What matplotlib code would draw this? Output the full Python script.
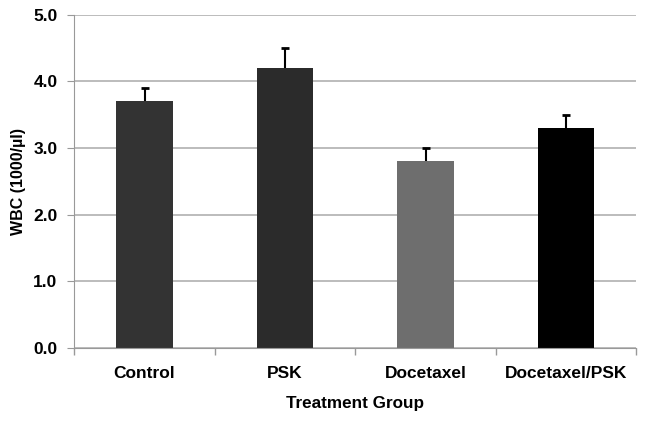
import matplotlib
matplotlib.use('Agg')
import matplotlib.pyplot as plt

# Data
groups = ['Control', 'PSK', 'Docetaxel', 'Docetaxel/PSK']
wbc = [3.7, 4.2, 2.8, 3.3]
err = [0.2, 0.3, 0.2, 0.2]
colors = ['#333333', '#2b2b2b', '#6e6e6e', '#000000']

plt.rcParams['font.family'] = ['Liberation Sans', 'DejaVu Sans']
plt.rcParams['font.weight'] = 'bold'

fig, ax = plt.subplots(figsize=(6.46, 4.23), dpi=100)
fig.subplots_adjust(left=0.115, right=0.985, top=0.965, bottom=0.177)

x = range(len(groups))
ax.bar(x, wbc, width=0.4, color=colors, zorder=2)
line, caps, bars = ax.errorbar(x, wbc, yerr=[[0] * len(err), err], fmt='none', ecolor='black',
                               elinewidth=1.5, capsize=3, capthick=2, zorder=3)
# Only keep the upper caps
caps[0].set_visible(False)

# Grid
ax.set_ylim(0, 5)
ax.set_yticks([0, 1, 2, 3, 4, 5])
ax.set_yticklabels(['%.1f' % v for v in [0, 1, 2, 3, 4, 5]], fontsize=12.5, fontweight='bold')
ax.yaxis.grid(True, color='#b0b0b0', linewidth=1.2, zorder=0)
ax.set_xlim(-0.5, len(groups) - 0.5)

# Category labels, ticks between categories
ax.set_xticks(list(x))
ax.set_xticklabels(groups, fontsize=12.5, fontweight='bold')
ax.tick_params(axis='x', length=0, pad=13)
ax.set_xticks([i - 0.5 for i in range(len(groups) + 1)], minor=True)
ax.tick_params(axis='x', which='minor', length=5, color='#999999', width=1)
ax.tick_params(axis='y', length=5, color='#999999', pad=7)

# Axis names
ax.set_ylabel('WBC (1000/µl)', fontsize=11.5, fontweight='bold', labelpad=5)
ax.set_xlabel('Treatment Group', fontsize=12.3, fontweight='bold', labelpad=11)

# Borders
ax.spines['top'].set_visible(False)
ax.spines['right'].set_visible(False)
ax.spines['left'].set_color('#999999')
ax.spines['bottom'].set_color('#999999')

plt.savefig('out.png', dpi=100)
